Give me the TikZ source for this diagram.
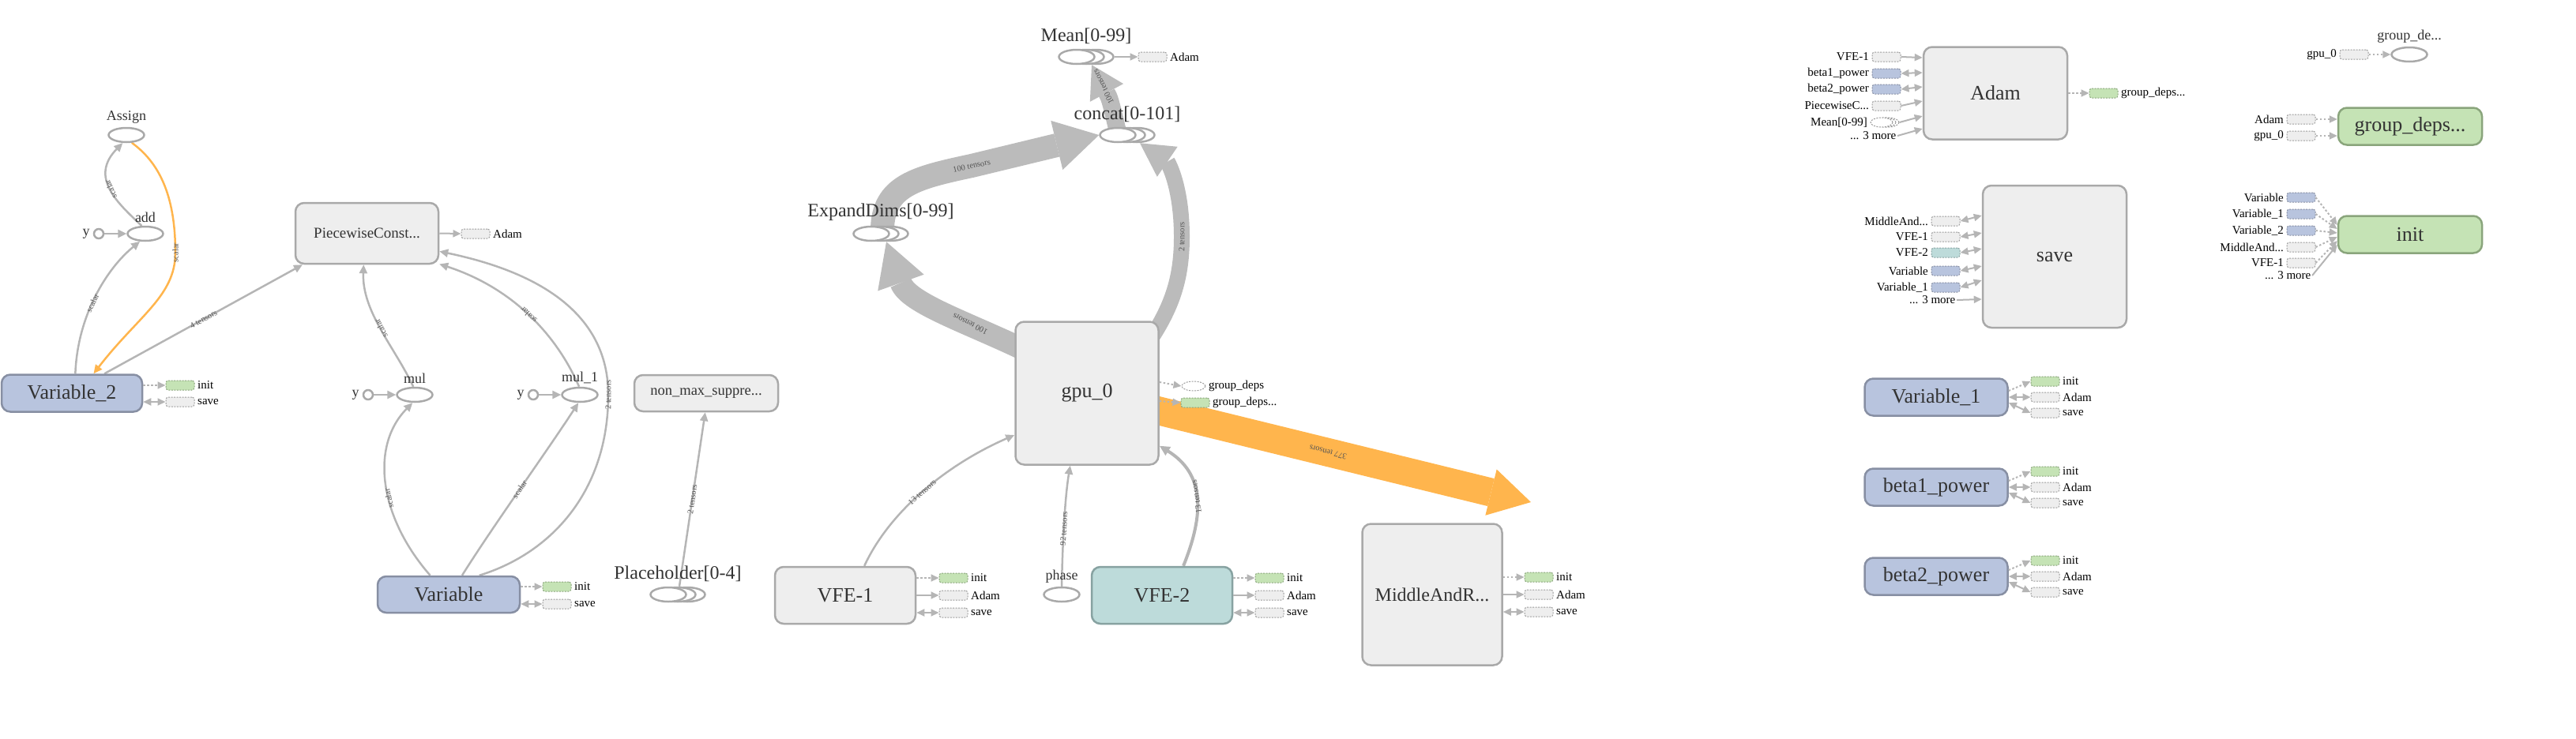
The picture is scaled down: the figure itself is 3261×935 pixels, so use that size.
\documentclass[tikz,border=0pt]{standalone}
\usepackage{fontspec}
\setmainfont{Liberation Serif}
\usetikzlibrary{shapes.geometric,arrows.meta,shadows,backgrounds}

\definecolor{txt}{HTML}{333333}
\definecolor{lbltxt}{HTML}{555555}
\definecolor{edgegray}{HTML}{B5B5B5}
\definecolor{bandgray}{HTML}{BBBBBB}
\definecolor{boxfill}{HTML}{EEEEEE}
\definecolor{boxline}{HTML}{A9A9A9}
\definecolor{tagline}{HTML}{9C9C9C}
\definecolor{varfill}{HTML}{B8C4DE}
\definecolor{varline}{HTML}{878FA3}
\definecolor{grnfill}{HTML}{C5E3B5}
\definecolor{grnline}{HTML}{8AA57C}
\definecolor{tealfill}{HTML}{BDDBDA}
\definecolor{tealline}{HTML}{87A2A1}
\definecolor{orng}{HTML}{FFB54D}

\begin{document}
\begin{tikzpicture}
  [x=1pt,y=-1pt,every node/.style={text=txt},
   grp/.style={draw=boxline,fill=boxfill,line width=2.5pt,rounded corners=11pt,inner sep=2pt,font=\fontsize{26}{30}\selectfont},
   vbox/.style={grp,draw=varline,fill=varfill},
   gbox/.style={grp,draw=grnline,fill=grnfill},
   tbox/.style={grp,draw=tealline,fill=tealfill},
   op/.style={ellipse,draw=boxline,fill=white,line width=2.5pt,minimum width=45pt,minimum height=18pt,inner sep=0pt},
   ser/.style={op,copy shadow={shadow xshift=24pt,shadow yshift=0pt},copy shadow={shadow xshift=12pt,shadow yshift=0pt}},
   cst/.style={circle,draw=boxline,fill=white,line width=2.5pt,minimum size=12pt,inner sep=0pt},
   oplbl/.style={font=\fontsize{18}{20}\selectfont,inner sep=1pt,label distance=3pt},
   serlbl/.style={font=\fontsize{24}{26}\selectfont,inner sep=1pt,label distance=5pt},
   chip/.style={draw=tagline,fill=boxfill,line width=1pt,dash pattern=on 2pt off 1.5pt,rounded corners=3pt,minimum width=36pt,minimum height=12pt,inner sep=0pt},
   gchip/.style={chip,draw=grnline,fill=grnfill},
   vchip/.style={chip,draw=varline,fill=varfill},
   tchip/.style={chip,draw=tealline,fill=tealfill},
   echip/.style={chip,ellipse,fill=white,minimum width=30pt},
   schip/.style={echip,minimum width=28pt,copy shadow={shadow xshift=8pt,shadow yshift=0pt},copy shadow={shadow xshift=4pt,shadow yshift=0pt}},
   tlbl/.style={font=\fontsize{15}{17}\selectfont,text=black,inner sep=1.5pt,label distance=2pt},
   elbl/.style={font=\fontsize{10.5}{12}\selectfont,text=lbltxt,inner sep=1pt,sloped,allow upside down},
   flow/.style={draw=edgegray,line width=2.5pt,-{Triangle[length=11pt,width=10pt]}},
   into/.style={draw=edgegray,line width=2pt,-{Triangle[length=10pt,width=9pt]}},
   ctl/.style={into,dash pattern=on 2.5pt off 2.5pt},
   twoway/.style={into,{Triangle[length=10pt,width=9pt]}-{Triangle[length=10pt,width=9pt]}},
   fat/.style={draw=bandgray,line cap=butt}]
  \useasboundingbox (0,0) rectangle (3261,935);

  % left part
  \node (assign)[op,label={[oplbl]above:Assign}] at (160,171) {};
  \node (add)[op,label={[oplbl]above:add}] at (184,296) {};
  \node (y1)[cst,label={[oplbl]left:y}] at (125,296) {};
  \node (var2)[vbox,minimum width=178pt,minimum height=47pt] at (91,498) {Variable\_2};
  \node (var2i)[gchip,label={[tlbl]right:init}] at (228,488) {};
  \node (var2s)[chip,label={[tlbl]right:save}] at (228,509) {};

  \node (pwc)[grp,minimum width=181pt,minimum height=77pt,font=\fontsize{19}{22}\selectfont] at (464.5,295.5) {PiecewiseConst...};
  \node (pwca)[chip,label={[tlbl]right:Adam}] at (602,296) {};
  \node (mul)[op,label={[oplbl]above:mul}] at (525,500) {};
  \node (y2)[cst,label={[oplbl]left:y}] at (466,500) {};
  \node (mul1)[op,label={[oplbl]above:mul\_1}] at (734,500) {};
  \node (y3)[cst,label={[oplbl]left:y}] at (675,500) {};
  \node (var)[vbox,minimum width=180pt,minimum height=46pt] at (568,753) {Variable};
  \node (vari)[gchip,label={[tlbl]right:init}] at (705,743) {};
  \node (vars)[chip,label={[tlbl]right:save}] at (705,765) {};
  \node (nms)[grp,minimum width=182pt,minimum height=46pt,font=\fontsize{18.5}{21}\selectfont] at (894,498) {non\_max\_suppre...};
  \node (ph)[ser,label={[serlbl,xshift=12pt]above:{Placeholder[0-4]}}] at (846,753) {};

  % middle part
  \node (mean)[ser,label={[serlbl,xshift=12pt]above:{Mean[0-99]}}] at (1363,72) {};
  \node (meana)[chip,label={[tlbl]right:Adam}] at (1459,72) {};
  \node (concat)[ser,label={[serlbl,xshift=12pt]above:{concat[0-101]}}] at (1415,171) {};
  \node (exp)[ser,label={[serlbl,xshift=12pt]above:{ExpandDims[0-99]}}] at (1103,296) {};
  \node (gpu)[grp,minimum width=181pt,minimum height=181pt] at (1376,498) {gpu\_0};
  \node (gpud1)[echip,label={[tlbl]right:group\_deps}] at (1511,489) {};
  \node (gpud2)[gchip,label={[tlbl]right:group\_deps...}] at (1513,510) {};
  \node (vfe1)[grp,minimum width=178pt,minimum height=72pt] at (1070,754) {VFE-1};
  \node (phase)[op,label={[oplbl]above:phase}] at (1344,753) {};
  \node (vfe2)[tbox,minimum width=178pt,minimum height=72pt] at (1471,754) {VFE-2};
  \node (middle)[grp,minimum width=177pt,minimum height=179pt,font=\fontsize{24}{28}\selectfont] at (1813,753) {MiddleAndR...};
  \coordinate (midtip) at (1938,636);

  \begin{scope}[on background layer]
    % wide bundles
    \draw[fat,line width=30pt,-{Triangle[length=55pt,width=64pt,line width=0pt]}]
      ([xshift=14pt,yshift=-6pt]exp.north) .. controls (1117,235) and (1160,225) .. (1230,210) node[elbl,pos=1]{100 tensors} -- (concat.west);
    \draw[fat,line width=22pt,-{Triangle[length=40pt,width=48pt,line width=0pt]}]
      ([yshift=-6pt]concat.north) .. controls (1405,125) .. ([xshift=19pt]mean.south) node[elbl,pos=0.72]{100 tensors};
    \draw[fat,line width=28pt,-{Triangle[length=55pt,width=62pt,line width=0pt]}]
      ([xshift=25pt]gpu.152) .. controls (1230,410) and (1150,385) .. ([xshift=19pt]exp.south) node[elbl,pos=0.35]{100 tensors};
    \draw[fat,line width=20pt,-{Triangle[length=42pt,width=46pt,line width=0pt]}]
      ([yshift=-20pt]gpu.48) .. controls (1485,385) and (1496,350) .. (1496,300) node[elbl,pos=1]{2 tensors}
      .. controls (1496,235) and (1478,205) .. ([xshift=28pt]concat.south);
    \draw[fat,draw=orng,line width=36pt,{Triangle[length=52pt,width=60pt,line width=0pt]}-]
      (midtip) -- (gpu.center) node[elbl,pos=0.457]{377 tensors};

    \draw[flow] (y1) -- (add);
    \draw[flow] (var2.80) .. controls (98,400) and (135,340) .. (add.-125) node[elbl,pos=0.45]{scalar};
    \draw[flow] (add.115) .. controls (150,258) and (112,225) .. (assign.-115) node[elbl,pos=0.5]{scalar};
    \draw[flow,draw=orng,{Triangle[length=11pt,width=10pt]}-] (var2.42) .. controls (175,400) and (222,375) .. (222,320) node[elbl,pos=1]{scalar}
      .. controls (222,245) and (200,205) .. (assign.-55);
    \draw[flow] (var2.31) -- (pwc.-154) node[elbl,pos=0.5]{4 tensors};
    \draw[flow] (var.134) .. controls (480,655) and (468,565) .. (mul.-105) node[elbl,pos=0.42]{scalar};
    \draw[flow] (y2) -- (mul);
    \draw[flow] (mul.100) .. controls (500,440) and (458,395) .. (pwc.-96) node[elbl,pos=0.5]{scalar};
    \draw[flow] (var.55) .. controls (625,665) and (690,575) .. (mul1.-100) node[elbl,pos=0.5]{scalar};
    \draw[flow] (y3) -- (mul1);
    \draw[flow] (mul1.95) .. controls (705,425) and (650,365) .. (pwc.-23) node[elbl,pos=0.5]{scalar};
    \draw[flow] (var.32) .. controls (700,700) and (770,620) .. (770,500) node[elbl,pos=1]{2 tensors}
      .. controls (770,385) and (660,340) .. (pwc.-14);
    \draw[flow] ([xshift=14pt]ph.north) -- (nms.-93) node[elbl,pos=0.5]{2 tensors};
    \draw[flow] (vfe1.57) .. controls (1125,650) and (1195,590) .. (gpu.210) node[elbl,pos=0.5]{13 tensors};
    \draw[flow] (phase.north) .. controls (1345,690) and (1348,630) .. (gpu.-103) node[elbl,pos=0.45]{92 tensors};
    \draw[flow,line width=4pt,-{Triangle[length=13pt,width=12pt]}] (vfe2.54) .. controls (1525,650) and (1525,600) .. (gpu.-36) node[elbl,pos=0.5]{13 tensors};
  \end{scope}

  \draw[ctl] ([yshift=10pt]var2.east) -- (var2i.west);
  \draw[twoway] ([yshift=-11pt]var2.east) -- (var2s.west);
  \draw[into] (pwc.east) -- (pwca.west);
  \draw[ctl] ([yshift=10pt]var.east) -- (vari.west);
  \draw[twoway] ([yshift=-12pt]var.east) -- (vars.west);
  \draw[into] ([xshift=24pt]mean.east) -- (meana.west);
  \draw[ctl] ([yshift=14pt]gpu.east) -- (gpud1.west);
  \draw[ctl] ([yshift=-10pt]gpu.east) -- (gpud2.west);

  \foreach \nm/\tx/\ty in {vfe1/1207/754,vfe2/1607/754,middle/1948/753}{
    \node (\nm i)[gchip,label={[tlbl]right:init}] at (\tx,\ty-22) {};
    \node (\nm a)[chip,label={[tlbl]right:Adam}] at (\tx,\ty) {};
    \node (\nm s)[chip,label={[tlbl]right:save}] at (\tx,\ty+22) {};
    \draw[ctl] ([yshift=22pt]\nm.east) -- (\nm i.west);
    \draw[into] (\nm.east) -- (\nm a.west);
    \draw[twoway] ([yshift=-22pt]\nm.east) -- (\nm s.west);
  }

  % right part
  \node (adam)[grp,minimum width=182pt,minimum height=117pt] at (2526,118) {Adam};
  \node (ain1)[chip,label={[tlbl]left:VFE-1}] at (2388,72) {};
  \node (ain2)[vchip,label={[tlbl]left:beta1\_power}] at (2388,93) {};
  \node (ain3)[vchip,label={[tlbl]left:beta2\_power}] at (2388,113) {};
  \node (ain4)[chip,label={[tlbl]left:PiecewiseC...}] at (2388,134) {};
  \node (ain5)[schip,label={[tlbl]left:{Mean[0-99]}}] at (2382,155) {};
  \node (ain6)[tlbl,anchor=east] at (2402,172) {... 3 more};
  \node (aout)[gchip,label={[tlbl]right:group\_deps...}] at (2663,118) {};
  \draw[into] (ain1.east) -- ([yshift=45pt]adam.west);
  \foreach \k/\s in {2/26,3/8}
    \draw[twoway] (ain\k.east) -- ([yshift=\s pt]adam.west);
  \draw[into] (ain4.east) -- ([yshift=-10pt]adam.west);
  \draw[into] ([xshift=8pt]ain5.east) -- ([yshift=-29pt]adam.west);
  \draw[into] (ain6.east) -- ([yshift=-45pt]adam.west);
  \draw[ctl] (adam.east) -- (aout.west);

  \node (save)[grp,minimum width=182pt,minimum height=180pt] at (2601,325) {save};
  \node (sin1)[chip,label={[tlbl]left:MiddleAnd...}] at (2463,280) {};
  \node (sin2)[chip,label={[tlbl]left:VFE-1}] at (2463,300) {};
  \node (sin3)[tchip,label={[tlbl]left:VFE-2}] at (2463,320) {};
  \node (sin4)[vchip,label={[tlbl]left:Variable}] at (2463,343) {};
  \node (sin5)[vchip,label={[tlbl]left:Variable\_1}] at (2463,364) {};
  \node (sin6)[tlbl,anchor=east] at (2477,380) {... 3 more};
  \foreach \k/\s in {1/52,2/30,3/10,4/-12,5/-30}
    \draw[twoway] (sin\k.east) -- ([yshift=\s pt]save.west);
  \draw[into] (sin6.east) -- ([yshift=-54pt]save.west);

  \node (gde)[op,label={[oplbl]above:group\_de...}] at (3050,69) {};
  \node (gdein)[chip,label={[tlbl]left:gpu\_0}] at (2980,69) {};
  \draw[ctl] (gdein.east) -- (gde.west);

  \node (gdeps)[gbox,minimum width=182pt,minimum height=47pt] at (3051,160) {group\_deps...};
  \node (gd1)[chip,label={[tlbl]left:Adam}] at (2913,151) {};
  \node (gd2)[chip,label={[tlbl]left:gpu\_0}] at (2913,172) {};
  \draw[ctl] (gd1.east) -- ([yshift=9pt]gdeps.west);
  \draw[ctl] (gd2.east) -- ([yshift=-12pt]gdeps.west);

  \node (init)[gbox,minimum width=182pt,minimum height=47pt] at (3051,297) {init};
  \node (ini1)[vchip,label={[tlbl]left:Variable}] at (2913,250) {};
  \node (ini2)[vchip,label={[tlbl]left:Variable\_1}] at (2913,271) {};
  \node (ini3)[vchip,label={[tlbl]left:Variable\_2}] at (2913,292) {};
  \node (ini4)[chip,label={[tlbl]left:MiddleAnd...}] at (2913,313) {};
  \node (ini5)[chip,label={[tlbl]left:VFE-1}] at (2913,333) {};
  \node (ini6)[tlbl,anchor=east] at (2927,349) {... 3 more};
  \foreach \k/\s in {1/12,2/7,3/2,4/-3,5/-8}
    \draw[ctl] (ini\k.east) -- ([yshift=\s pt]init.west);
  \draw[into] (ini6.east) -- ([yshift=-13pt]init.west);

  \foreach \nm/\txt/\ty in {var1/Variable\_1/503,beta1/beta1\_power/617,beta2/beta2\_power/730}{
    \node (\nm)[vbox,minimum width=181pt,minimum height=47pt] at (2451,\ty) {\txt};
    \node (\nm i)[gchip,label={[tlbl]right:init}] at (2589,\ty-20) {};
    \node (\nm a)[chip,label={[tlbl]right:Adam}] at (2589,\ty) {};
    \node (\nm s)[chip,label={[tlbl]right:save}] at (2589,\ty+20) {};
    \draw[ctl] ([yshift=8pt]\nm.east) -- (\nm i.west);
    \draw[twoway] (\nm.east) -- (\nm a.west);
    \draw[twoway] ([yshift=-7pt]\nm.east) -- (\nm s.west);
  }
\end{tikzpicture}
\end{document}
